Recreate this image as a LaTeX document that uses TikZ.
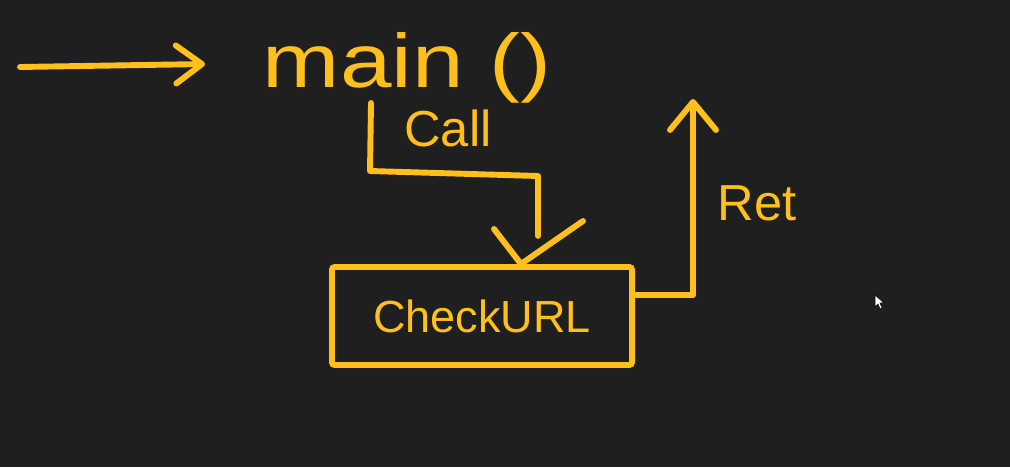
\documentclass[tikz,border=0pt]{standalone}
\usepackage{fontspec}
\setmainfont{Liberation Sans}
\usetikzlibrary{positioning,arrows.meta,calc}
\definecolor{boardbg}{HTML}{1F1F1F}
\definecolor{chalkyellow}{HTML}{FFBF1C}
\tikzset{
  wire/.style={draw=chalkyellow, line width=4.2pt, line cap=round, line join=round},
  flow/.style={wire, -{Straight Barb[length=6.5mm, width=9.5mm, round]}},
  handlab/.style={text=chalkyellow, inner sep=0pt},
  callbox/.style={draw=chalkyellow, line width=4.2pt, rounded corners=2pt,
    minimum width=7.5cm, minimum height=2.45cm, inner sep=0pt, text=chalkyellow},
}

\begin{document}
\begin{tikzpicture}[x=0.025cm, y=-0.025cm]
% --- board ---
\fill[boardbg] (0,0) rectangle (1010,467);
\useasboundingbox (0,0) rectangle (1010,467);
% --- labels and box ---
\node[handlab, anchor=base, xscale=1.22, font=\fontsize{54}{60}\selectfont] (main) at (407,87) {main ()};
\node[handlab, anchor=base, font=\fontsize{36}{42}\selectfont] (call) at (448,146) {Call};
\node[callbox, font=\fontsize{32}{38}\selectfont] (check) at (482,316) {CheckURL};
\node[handlab, anchor=base, font=\fontsize{36}{42}\selectfont] (ret) at (757,220) {Ret};
% --- connectors ---
\coordinate (entry) at (20,67);
\coordinate (entrytip) at (205,64);
\draw[flow] (entry) -- (entrytip);
\coordinate (callstart) at (371,103);
\coordinate (calltip) at (521,264);
\draw[wire] (callstart) -- (370,171) -- (538,176) -- (check.north -| 538,0) [shorten >=20pt];
\draw[wire] ($(calltip)+(-27,-35)$) -- (calltip) -- ++(62,-43);
\coordinate (retstart) at ($(check.north east)!0.3!(check.south east)$);
\coordinate (rettip) at (693,99);
\draw[flow, -{Straight Barb[length=7mm, width=11.5mm, round]}] (retstart) -| (rettip);
% --- cursor ---
\draw[black, fill=white, line width=0.4pt] (875,295) -- (875,307) -- (878,304) -- (880,309)
  -- (882,308) -- (880,303) -- (884,303) -- cycle;
\end{tikzpicture}
\end{document}
